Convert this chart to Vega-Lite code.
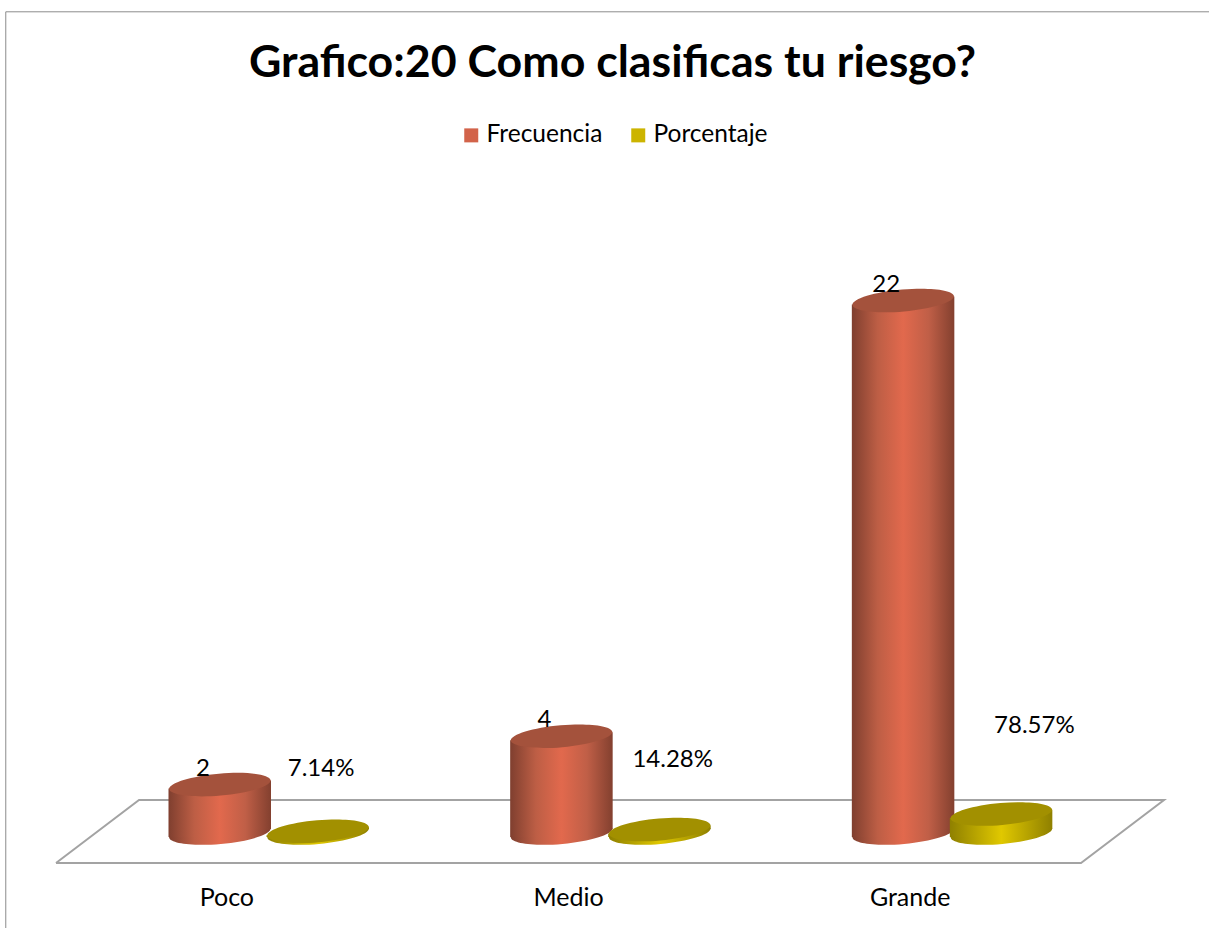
{
"$schema":"https://vega.github.io/schema/vega-lite/v6.json",
"width":1025,"height":713,"autosize":"none",
"padding":{"left":56,"top":150,"right":128,"bottom":65},
"background":"white",
"view":{"stroke":null},
"title":{"text":"Grafico:20 Como clasificas tu riesgo?","font":"Lato","fontSize":44.7,"fontWeight":"bold","color":"#000000","anchor":"middle","dx":44,"offset":-77},
"config":{"font":"Lato"},
"datasets":{
"main":[
{"categoria":"Poco","serie":"Frecuencia","valor":2,"etiqueta":"2"},
{"categoria":"Medio","serie":"Frecuencia","valor":4,"etiqueta":"4"},
{"categoria":"Grande","serie":"Frecuencia","valor":22,"etiqueta":"22"},
{"categoria":"Poco","serie":"Porcentaje","valor":0.0714,"etiqueta":"7.14%"},
{"categoria":"Medio","serie":"Porcentaje","valor":0.1428,"etiqueta":"14.28%"},
{"categoria":"Grande","serie":"Porcentaje","valor":0.7857,"etiqueta":"78.57%"}],
"floor":[
{"u":0,"v":-1.24,"o":1},{"u":3,"v":-1.24,"o":2},{"u":3.243,"v":1.364,"o":3},{"u":0.243,"v":1.364,"o":4},{"u":0,"v":-1.24,"o":5}],
"frame":[
{"u":-0.147,"v":-3.93,"o":1},{"u":-0.147,"v":33.93,"o":2},{"u":3.38,"v":33.93,"o":3}]
},
"encoding":{"y":{"type":"quantitative","scale":{"domain":[-1.24,28.22],"nice":false,"zero":false},"axis":null}},
"resolve":{"scale":{"x":"independent"}},
"layer":[
{"data":{"name":"frame"},"mark":{"type":"line","stroke":"#8c8c8c","strokeWidth":1,"clip":false},
 "encoding":{"x":{"field":"u","type":"quantitative","scale":{"domain":[0,3],"nice":false,"zero":false},"axis":null},"y":{"field":"v","type":"quantitative"},"order":{"field":"o"}}},
{"data":{"name":"floor"},"mark":{"type":"line","stroke":"#a3a3a3","strokeWidth":2,"clip":false},
 "encoding":{"x":{"field":"u","type":"quantitative","scale":{"domain":[0,3],"nice":false,"zero":false},"axis":null},"y":{"field":"v","type":"quantitative"},"order":{"field":"o"}}},
{"data":{"name":"main"},
 "encoding":{
  "x":{"field":"categoria","type":"nominal","sort":["Poco","Medio","Grande"],"scale":{"paddingInner":0,"paddingOuter":0},
   "axis":{"title":null,"domain":false,"ticks":false,"labelAngle":0,"labelFont":"Lato","labelFontSize":25,"labelColor":"#000000","labelPadding":22,"grid":false}},
  "xOffset":{"field":"serie","type":"nominal","sort":["Frecuencia","Porcentaje"],"scale":{"paddingInner":0,"paddingOuter":0.74,"align":0.79}},
  "y":{"field":"valor","type":"quantitative"}
 },
 "layer":[
  {"transform":[{"filter":"datum.serie==='Frecuencia'"}],
   "mark":{"type":"point","filled":true,"opacity":1,"size":10404,"shape":"M-0.996,0.087 A1,0.22 -5 0 1 0.996,-0.087 A1,0.22 -5 0 1 -0.996,0.087 Z","fill":{"gradient":"linear","x1":0,"x2":1,"y1":0,"y2":0,"stops":[{"offset":0,"color":"#7f3f2f"},{"offset":0.25,"color":"#bd5e45"},{"offset":0.5,"color":"#e2694d"},{"offset":0.75,"color":"#c05f47"},{"offset":1,"color":"#83402f"}]}},
   "encoding":{"y":{"datum":0,"type":"quantitative"}}},
  {"transform":[{"filter":"datum.serie==='Porcentaje'"}],
   "mark":{"type":"point","filled":true,"opacity":1,"size":10404,"shape":"M-0.996,0.087 A1,0.22 -5 0 1 0.996,-0.087 A1,0.22 -5 0 1 -0.996,0.087 Z","fill":{"gradient":"linear","x1":0,"x2":1,"y1":0,"y2":0,"stops":[{"offset":0,"color":"#8f8000"},{"offset":0.5,"color":"#e0c800"},{"offset":1,"color":"#8f8000"}]}},
   "encoding":{"y":{"datum":0,"type":"quantitative"}}},
  {"mark":{"type":"bar","width":60,"y2Offset":-6},
   "encoding":{"y2":{"datum":0},"color":{"field":"serie","type":"nominal","scale":{"domain":["Frecuencia","Porcentaje"],"range":["#d2634a","#ccb400"]},
     "legend":{"orient":"none","legendX":403,"legendY":-27,"direction":"horizontal","title":null,"symbolType":"square","symbolSize":196,"symbolStrokeWidth":0,"labelFont":"Lato","labelFontSize":24.5,"labelColor":"#000000","columnPadding":23,"labelOffset":3}}}},
  {"transform":[{"filter":"datum.serie==='Frecuencia'"}],
   "mark":{"type":"bar","width":51.5,"yOffset":4,"y2Offset":4,"fill":{"gradient":"linear","x1":0,"x2":1,"y1":0,"y2":0,"stops":[{"offset":0,"color":"#7f3f2f"},{"offset":0.5,"color":"#bd5e45"},{"offset":1,"color":"#e2694d"}]}},
   "encoding":{"y2":{"datum":0},"xOffset":{"value":138.25}}},
  {"transform":[{"filter":"datum.serie==='Frecuencia'"}],
   "mark":{"type":"bar","width":51.5,"yOffset":-4,"y2Offset":-4,"fill":{"gradient":"linear","x1":0,"x2":1,"y1":0,"y2":0,"stops":[{"offset":0,"color":"#e2694d"},{"offset":0.5,"color":"#c05f47"},{"offset":1,"color":"#83402f"}]}},
   "encoding":{"y2":{"datum":0},"xOffset":{"value":189.25}}},
  {"transform":[{"filter":"datum.serie==='Frecuencia'"}],
   "mark":{"type":"point","filled":true,"opacity":1,"size":10404,"clip":false,"shape":"M-0.996,0.087 A1,0.22 -5 0 1 0.996,-0.087 A1,0.22 -5 0 1 -0.996,0.087 Z","fill":"#a4523c"}},
  {"transform":[{"filter":"datum.serie==='Porcentaje'"}],
   "mark":{"type":"bar","width":51.5,"yOffset":4,"y2Offset":4,"fill":{"gradient":"linear","x1":0,"x2":1,"y1":0,"y2":0,"stops":[{"offset":0,"color":"#8f8000"},{"offset":1,"color":"#e0c800"}]}},
   "encoding":{"y2":{"datum":0},"xOffset":{"value":236.25}}},
  {"transform":[{"filter":"datum.serie==='Porcentaje'"}],
   "mark":{"type":"bar","width":51.5,"yOffset":-4,"y2Offset":-4,"fill":{"gradient":"linear","x1":0,"x2":1,"y1":0,"y2":0,"stops":[{"offset":0,"color":"#e0c800"},{"offset":1,"color":"#8f8000"}]}},
   "encoding":{"y2":{"datum":0},"xOffset":{"value":287.25}}},
  {"transform":[{"filter":"datum.serie==='Porcentaje'"}],
   "mark":{"type":"point","filled":true,"opacity":1,"size":10404,"shape":"M-0.996,0.087 A1,0.22 -5 0 1 0.996,-0.087 A1,0.22 -5 0 1 -0.996,0.087 Z","fill":"#a29000"}},
  {"transform":[{"filter":"datum.serie==='Frecuencia'"}],
   "mark":{"type":"text","font":"Lato","fontSize":24,"color":"#000000","dx":-17,"dy":-16},
   "encoding":{"text":{"field":"etiqueta"}}},
  {"transform":[{"filter":"datum.categoria==='Poco' && datum.serie==='Porcentaje'"}],
   "mark":{"type":"text","font":"Lato","fontSize":24,"color":"#000000","dx":3,"dy":-62},
   "encoding":{"text":{"field":"etiqueta"}}},
  {"transform":[{"filter":"datum.categoria==='Medio' && datum.serie==='Porcentaje'"}],
   "mark":{"type":"text","font":"Lato","fontSize":24,"color":"#000000","dx":13,"dy":-70},
   "encoding":{"text":{"field":"etiqueta"}}},
  {"transform":[{"filter":"datum.categoria==='Grande' && datum.serie==='Porcentaje'"}],
   "mark":{"type":"text","font":"Lato","fontSize":24,"color":"#000000","dx":33,"dy":-88},
   "encoding":{"text":{"field":"etiqueta"}}}
 ]}
]
}
